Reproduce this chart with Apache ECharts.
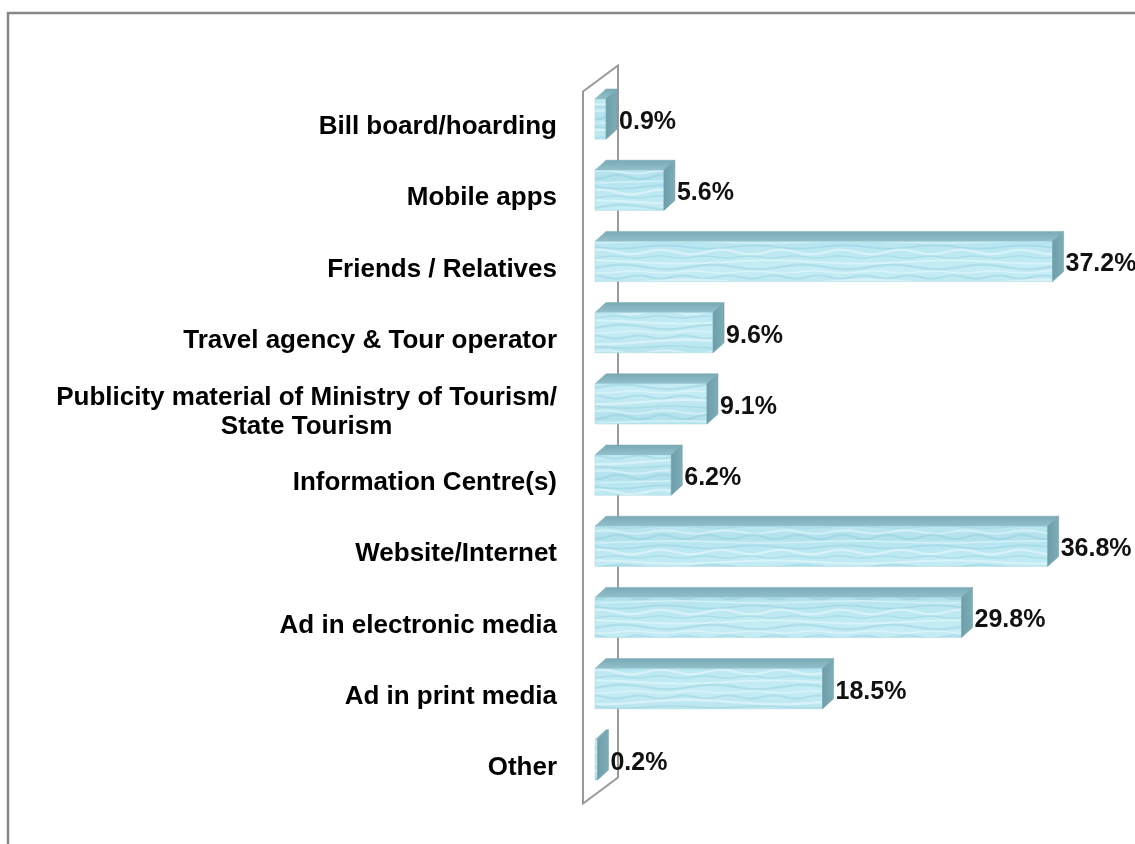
<!DOCTYPE html>
<html>
<head>
<meta charset="utf-8">
<title>Sources of information</title>
<script src="https://cdn.jsdelivr.net/npm/echarts@6/dist/echarts.min.js"></script>
<style>
  html, body { margin: 0; padding: 0; background: #ffffff; }
  #chart { width: 1135px; height: 844px; }
</style>
</head>
<body>
<div id="chart"></div>
<script>
// Categories from top to bottom and their shares (%)
const categories = [
  'Bill board/hoarding',
  'Mobile apps',
  'Friends / Relatives',
  'Travel agency & Tour operator',
  'Publicity material of Ministry of Tourism/\nState Tourism',
  'Information Centre(s)',
  'Website/Internet',
  'Ad in electronic media',
  'Ad in print media',
  'Other'
];
const shares = [0.9, 5.6, 37.2, 9.6, 9.1, 6.2, 36.8, 29.8, 18.5, 0.2];

// 3D look: front-face shift from the axis, box depth, side-wall depth
const FRONT_DX = 12, FRONT_DY = 8;
const DEPTH_DX = 11, DEPTH_DY = -10;
const WALL_DX = 35, WALL_DY = -26;
const BAR_RATIO = 0.565;

// Water-like texture for the bar fronts
function makeWater() {
  const w = 180, h = 60;
  const c = document.createElement('canvas');
  c.width = w; c.height = h;
  const g = c.getContext('2d');
  const grd = g.createLinearGradient(0, 0, 0, h);
  grd.addColorStop(0, '#b6e5f0');
  grd.addColorStop(0.5, '#c6edf5');
  grd.addColorStop(1, '#b2e1ec');
  g.fillStyle = grd;
  g.fillRect(0, 0, w, h);
  for (let r = 0; r < 12; r++) {
    const y = 2 + r * 5;
    g.beginPath();
    for (let x = 0; x <= w; x += 3) {
      const yy = y + (1 + (r % 3) * 0.6) *
        Math.sin((x / w) * 2 * Math.PI * (1 + (r % 4)) + r * 2.3);
      if (x === 0) g.moveTo(x, yy); else g.lineTo(x, yy);
    }
    g.strokeStyle = r % 2 ? 'rgba(135,198,216,0.35)' : 'rgba(232,249,252,0.6)';
    g.lineWidth = 1.4 + (r % 3) * 0.5;
    g.stroke();
  }
  return c;
}
const waterFill = { image: makeWater(), repeat: 'repeat' };

const labelFont = {
  fontFamily: '"Liberation Sans", Arial, sans-serif',
  fontWeight: 'bold',
  fontSize: 26,
  lineHeight: 29,
  color: '#000000'
};

function renderWall(params, api) {
  const band = api.size([0, 1])[1];
  const first = api.coord([0, 0]);
  const last = api.coord([0, categories.length - 1]);
  const x0 = first[0];
  const yTop = first[1] - band / 2;
  const yBot = last[1] + band / 2;
  return {
    type: 'polygon',
    shape: {
      points: [[x0, yTop], [x0 + WALL_DX, yTop + WALL_DY],
               [x0 + WALL_DX, yBot + WALL_DY], [x0, yBot]]
    },
    style: { fill: '#ffffff', stroke: '#9a9a9a', lineWidth: 2 },
    silent: true
  };
}

function renderBar(params, api) {
  const val = api.value(0);
  const idx = api.value(1);
  const base = api.coord([0, idx]);
  const end = api.coord([val, idx]);
  const band = api.size([0, 1])[1];
  const h = band * BAR_RATIO;
  const cy = base[1] - FRONT_DY;
  const x0 = base[0] + FRONT_DX;
  const x1 = end[0] + FRONT_DX;
  const y0 = cy - h / 2, y1 = cy + h / 2;
  return {
    type: 'group',
    children: [
      {
        type: 'polygon',
        shape: { points: [[x0, y0], [x0 + DEPTH_DX, y0 + DEPTH_DY],
                          [x1 + DEPTH_DX, y0 + DEPTH_DY], [x1, y0]] },
        style: {
          fill: new echarts.graphic.LinearGradient(0, 0, 0, 1, [
            { offset: 0, color: '#78a9b4' }, { offset: 1, color: '#93c1cb' }
          ]),
          stroke: '#7aa9b3', lineWidth: 0.5
        }
      },
      {
        type: 'rect',
        shape: { x: x0, y: y0, width: x1 - x0, height: h },
        style: { fill: waterFill, stroke: '#a4d4df', lineWidth: 0.5 }
      },
      {
        type: 'polygon',
        shape: { points: [[x1, y0], [x1 + DEPTH_DX, y0 + DEPTH_DY],
                          [x1 + DEPTH_DX, y1 + DEPTH_DY], [x1, y1]] },
        style: {
          fill: new echarts.graphic.LinearGradient(0, 0, 1, 0, [
            { offset: 0, color: '#6c9ea9' }, { offset: 1, color: '#7eadb7' }
          ]),
          stroke: '#6a9aa4', lineWidth: 0.5
        }
      },
      {
        type: 'text',
        x: x1 + DEPTH_DX + 2,
        y: cy + 3,
        style: {
          text: val.toFixed(1) + '%',
          fontFamily: '"Liberation Sans", Arial, sans-serif',
          fontWeight: 'bold',
          fontSize: 25,
          fill: '#111111',
          align: 'left',
          verticalAlign: 'middle'
        }
      }
    ]
  };
}

const chart = echarts.init(document.getElementById('chart'), null, { renderer: 'canvas' });
chart.setOption({
  backgroundColor: '#ffffff',
  animation: false,
  graphic: [{
    type: 'rect',
    shape: { x: 8, y: 13, width: 1400, height: 1000 },
    style: { fill: 'none', stroke: '#878787', lineWidth: 2.5 },
    silent: true,
    z: 100
  }],
  grid: { left: 583, right: 60, top: 91.5, bottom: 40.5, containLabel: false },
  xAxis: { type: 'value', min: 0, max: 40, show: false },
  yAxis: {
    type: 'category',
    inverse: true,
    data: categories,
    axisLine: { show: false },
    axisTick: { show: false },
    splitLine: { show: false },
    axisLabel: {
      margin: 26,
      align: 'right',
      formatter: (v) => v.split('\n').map(l => '{c|' + l + '}').join('\n'),
      rich: { c: Object.assign({ align: 'center' }, labelFont) }
    }
  },
  series: [
    {
      type: 'custom',
      name: 'wall',
      renderItem: renderWall,
      data: [[0, 0]],
      encode: { x: 0, y: 1 },
      z: 1,
      silent: true
    },
    {
      type: 'custom',
      name: 'share',
      renderItem: renderBar,
      data: shares.map((v, i) => [v, i]),
      encode: { x: 0, y: 1 },
      z: 2
    }
  ]
});
</script>
</body>
</html>
